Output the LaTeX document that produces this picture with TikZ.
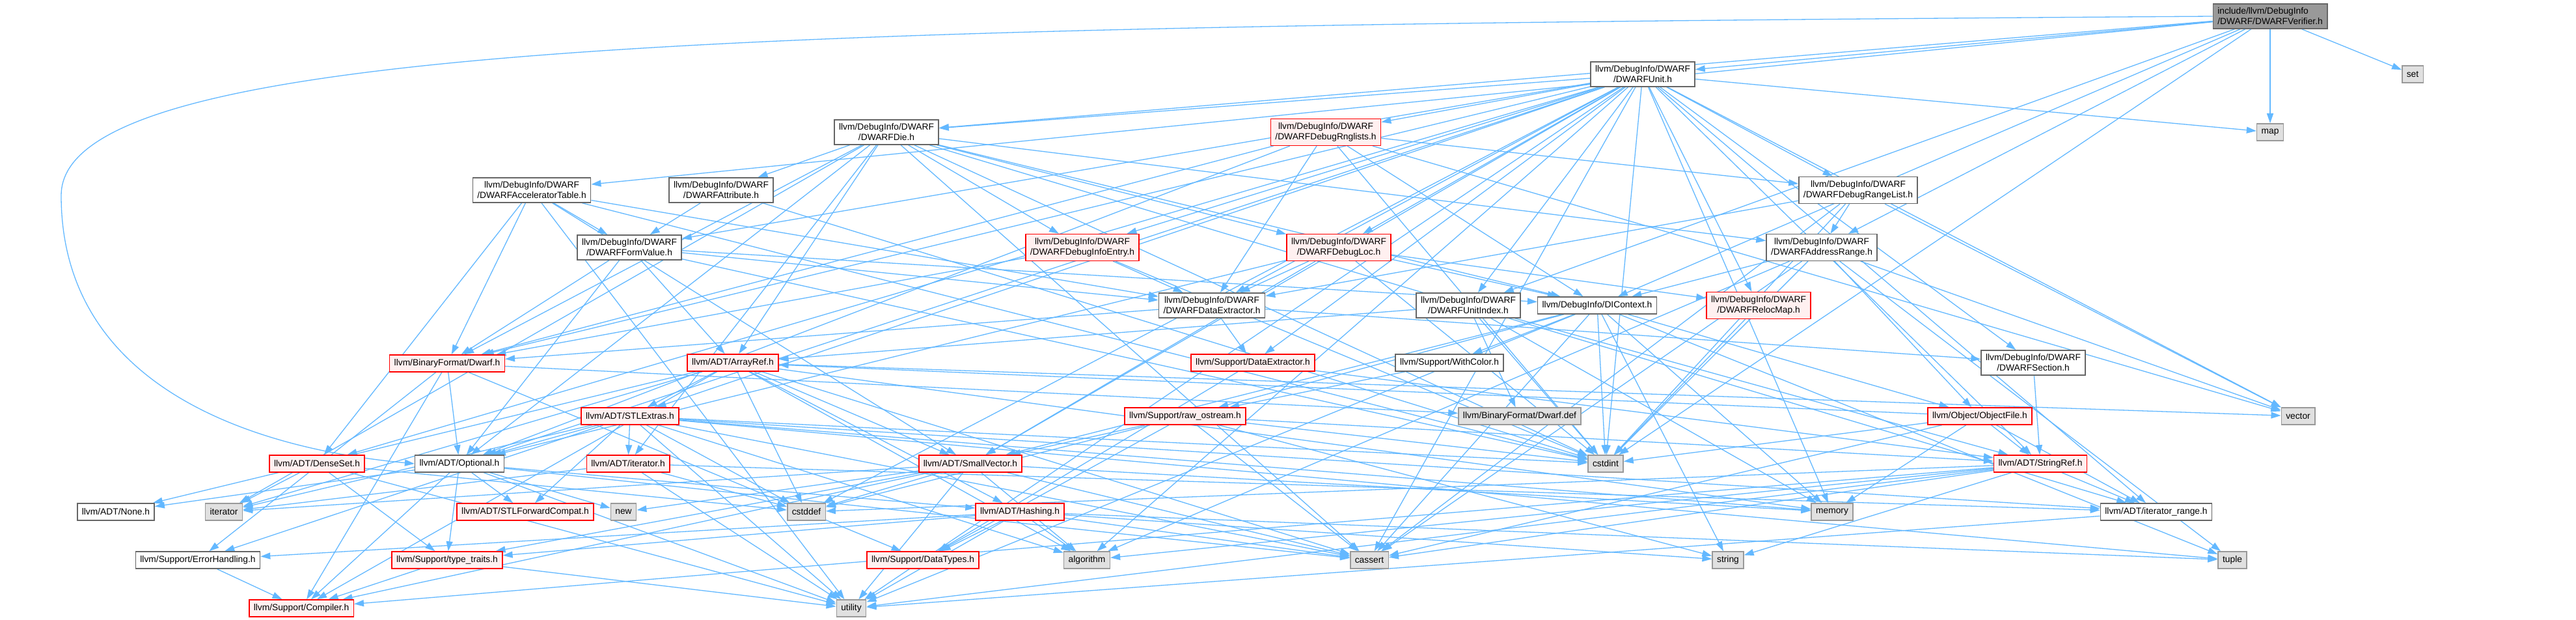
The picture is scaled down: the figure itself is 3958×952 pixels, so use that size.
\documentclass[tikz,border=0pt]{standalone}
\usepackage{fontspec}
\setmainfont{Liberation Sans}
\usetikzlibrary{arrows.meta}
\definecolor{edgeblue}{HTML}{63B8FF}
\definecolor{boxline}{HTML}{666666}
\definecolor{sysline}{HTML}{999999}
\definecolor{sysfill}{HTML}{E0E0E0}
\definecolor{truncfill}{HTML}{FFF0F0}
\pgfdeclarelayer{edges}
\pgfsetlayers{edges,main}

\begin{document}
\begin{tikzpicture}[x=1pt,y=-1pt,
  hdr/.style={draw=boxline,fill=white,line width=1.5pt,align=center,
    inner xsep=7pt,inner ysep=6pt,minimum height=26pt,
    font=\fontsize{13.8}{16}\selectfont},
  trunc/.style={hdr,draw=red,fill=truncfill},
  sys/.style={hdr,draw=sysline,fill=sysfill},
  rootbox/.style={hdr,fill=sysline,align=left},
  inc/.style={draw=edgeblue,line width=1.3pt,-{Triangle[length=15pt,width=10pt]}}]
  \useasboundingbox (0,0) rectangle (3958,952);

  % ================= top ranks =================
  \node[rootbox] (V) at (3488,25) {include/llvm/DebugInfo\\/DWARF/DWARFVerifier.h};
  \node[sys] (sset) at (3707,114) {set};
  \node[hdr] (unit) at (2524,114) {llvm/DebugInfo/DWARF\\/DWARFUnit.h};
  \node[sys] (smap) at (3488,203) {map};
  \node[trunc] (rngl) at (2037,203) {llvm/DebugInfo/DWARF\\/DWARFDebugRnglists.h};
  \node[hdr] (die) at (1362,203) {llvm/DebugInfo/DWARF\\/DWARFDie.h};
  \node[hdr] (accel) at (817,292) {llvm/DebugInfo/DWARF\\/DWARFAcceleratorTable.h};
  \node[hdr] (attr) at (1108,292) {llvm/DebugInfo/DWARF\\/DWARFAttribute.h};
  \node[hdr] (rangelist) at (2855,292) {llvm/DebugInfo/DWARF\\/DWARFDebugRangeList.h};
  \node[hdr] (formval) at (967,380) {llvm/DebugInfo/DWARF\\/DWARFFormValue.h};
  \node[trunc] (infoentry) at (1663,380) {llvm/DebugInfo/DWARF\\/DWARFDebugInfoEntry.h};
  \node[trunc] (dloc) at (2057,380) {llvm/DebugInfo/DWARF\\/DWARFDebugLoc.h};
  \node[hdr] (addrrange) at (2799,380) {llvm/DebugInfo/DWARF\\/DWARFAddressRange.h};
  \node[hdr] (dextr) at (1862,469) {llvm/DebugInfo/DWARF\\/DWARFDataExtractor.h};
  \node[hdr] (uidx) at (2256,469) {llvm/DebugInfo/DWARF\\/DWARFUnitIndex.h};
  \node[hdr] (dictx) at (2454,469) {llvm/DebugInfo/DIContext.h};
  \node[trunc] (reloc) at (2702,469) {llvm/DebugInfo/DWARF\\/DWARFRelocMap.h};

  % ================= middle ranks =================
  \node[trunc] (dwarfh) at (687,558) {llvm/BinaryFormat/Dwarf.h};
  \node[trunc] (arrayref) at (1126,557) {llvm/ADT/ArrayRef.h};
  \node[trunc] (sdextr) at (1925,557) {llvm/Support/DataExtractor.h};
  \node[hdr] (withcolor) at (2227,557) {llvm/Support/WithColor.h};
  \node[hdr] (section) at (3124,557) {llvm/DebugInfo/DWARF\\/DWARFSection.h};
  \node[trunc] (stlextras) at (968,639) {llvm/ADT/STLExtras.h};
  \node[trunc] (rawos) at (1821,639) {llvm/Support/raw\_ostream.h};
  \node[sys] (sdwarfdef) at (2335,639) {llvm/BinaryFormat/Dwarf.def};
  \node[trunc] (objfile) at (3042,639) {llvm/Object/ObjectFile.h};
  \node[sys] (svector) at (3531,639) {vector};
  \node[trunc] (denseset) at (487,712) {llvm/ADT/DenseSet.h};
  \node[hdr] (optional) at (706,712) {llvm/ADT/Optional.h};
  \node[trunc] (iterh) at (965,712) {llvm/ADT/iterator.h};
  \node[trunc] (smallvec) at (1491,712) {llvm/ADT/SmallVector.h};
  \node[sys] (scstdint) at (2467,712) {cstdint};
  \node[trunc] (stringref) at (3135,712) {llvm/ADT/StringRef.h};

  % ================= bottom ranks =================
  \node[hdr] (none) at (178,786) {llvm/ADT/None.h};
  \node[sys] (siterator) at (344,786) {iterator};
  \node[trunc] (stlfwd) at (807,786) {llvm/ADT/STLForwardCompat.h};
  \node[sys] (snew) at (958,786) {new};
  \node[sys] (scstddef) at (1239,786) {cstddef};
  \node[trunc] (hashing) at (1567,786) {llvm/ADT/Hashing.h};
  \node[sys] (smemory) at (2815,786) {memory};
  \node[hdr] (iterrange) at (3313,786) {llvm/ADT/iterator\_range.h};
  \node[hdr] (errh) at (304,860) {llvm/Support/ErrorHandling.h};
  \node[trunc] (typetr) at (687,860) {llvm/Support/type\_traits.h};
  \node[trunc] (datatypes) at (1418,860) {llvm/Support/DataTypes.h};
  \node[sys] (salgorithm) at (1670,860) {algorithm};
  \node[sys] (scassert) at (2104,860) {cassert};
  \node[sys] (sstring) at (2655,860) {string};
  \node[sys] (stuple) at (3430,860) {tuple};
  \node[trunc] (compiler) at (463,934) {llvm/Support/Compiler.h};
  \node[sys] (sutility) at (1308,934) {utility};

  % ================= include edges =================
  \begin{pgfonlayer}{edges}
    \foreach \t in {unit,die,accel,dictx,addrrange,uidx,scstdint,smap,sset}
      \draw[inc] (V) -- (\t);
    % Optional.h is reached round the far left
    \draw[inc] (V.west) .. controls (1200,40) and (94,60) .. (94,300)
      .. controls (94,600) and (400,690) .. (optional.west);

    \foreach \t in {denseset,optional,stlextras,smallvec,stringref,iterrange,dwarfh,infoentry,
        rangelist,rngl,die,formval,dloc,reloc,section,uidx,sdextr,dextr,salgorithm,scassert,
        scstddef,scstdint,smap,smemory,sutility,svector}
      \draw[inc] (unit) -- (\t);
    \foreach \t in {arrayref,optional,iterh,iterrange,dwarfh,dictx,addrrange,attr,infoentry,
        dloc,scassert,scstdint,siterator}
      \draw[inc] (die) -- (\t);
    \foreach \t in {optional,dwarfh,dictx,rangelist,dextr,scstdint,svector}
      \draw[inc] (rngl) -- (\t);
    \foreach \t in {denseset,smallvec,dwarfh,dextr,formval,scstdint,sutility}
      \draw[inc] (accel) -- (\t);
    \foreach \t in {formval,scstdint}
      \draw[inc] (attr) -- (\t);
    \foreach \t in {addrrange,dextr,scassert,scstdint,svector}
      \draw[inc] (rangelist) -- (\t);
    \foreach \t in {arrayref,optional,dwarfh,dictx,dextr,scstdint}
      \draw[inc] (formval) -- (\t);
    \foreach \t in {dwarfh,dextr,scstdint}
      \draw[inc] (infoentry) -- (\t);
    \foreach \t in {optional,smallvec,dictx,dextr,reloc,scstdint}
      \draw[inc] (dloc) -- (\t);
    \foreach \t in {dictx,objfile,salgorithm,scassert,scstdint,stuple,svector}
      \draw[inc] (addrrange) -- (\t);
    \foreach \t in {dwarfh,section,sdextr}
      \draw[inc] (dextr) -- (\t);
    \foreach \t in {arrayref,stringref,sdwarfdef,scstdint,smemory}
      \draw[inc] (uidx) -- (\t);
    \foreach \t in {smallvec,objfile,withcolor,rawos,scassert,scstdint,smemory,sstring,stuple,sutility}
      \draw[inc] (dictx) -- (\t);
    \draw[inc] (reloc) -- (scstdint);
    \draw[inc] (section) -- (stringref);
    \foreach \t in {stringref,datatypes}
      \draw[inc] (sdextr) -- (\t);
    \draw[inc] (withcolor) -- (rawos);
    \foreach \t in {optional,errh,compiler,datatypes,sdwarfdef}
      \draw[inc] (dwarfh) -- (\t);
    \foreach \t in {hashing,none,stlextras,smallvec,compiler,salgorithm,scassert,scstddef,
        siterator,smemory,svector}
      \draw[inc] (arrayref) -- (\t);
    \foreach \t in {optional,stlfwd,iterh,iterrange,errh,salgorithm,scassert,scstddef,scstdint,
        siterator,smemory,stuple,sutility}
      \draw[inc] (stlextras) -- (\t);
    \foreach \t in {smallvec,stringref,datatypes,scassert,scstddef,scstdint,sstring}
      \draw[inc] (rawos) -- (\t);
    \foreach \t in {arrayref,stringref,iterrange,scassert,scstdint,smemory}
      \draw[inc] (objfile) -- (\t);
    \foreach \t in {typetr,scstddef,siterator,sutility}
      \draw[inc] (denseset) -- (\t);
    \foreach \t in {hashing,none,stlfwd,compiler,typetr,scassert,snew,sutility}
      \draw[inc] (optional) -- (\t);
    \foreach \t in {iterrange,scstddef,siterator,sutility}
      \draw[inc] (iterh) -- (\t);
    \foreach \t in {compiler,typetr,salgorithm,scassert,scstddef,siterator,smemory,snew,sutility}
      \draw[inc] (smallvec) -- (\t);
    \foreach \t in {iterrange,compiler,salgorithm,scassert,scstddef,sstring,sutility}
      \draw[inc] (stringref) -- (\t);
    \foreach \t in {datatypes,errh,typetr,salgorithm,scassert,sstring,stuple,sutility}
      \draw[inc] (hashing) -- (\t);
    \draw[inc] (iterrange) -- (sutility);
    \draw[inc] (errh) -- (compiler);
    \foreach \t in {compiler,sutility}
      \draw[inc] (typetr) -- (\t);
  \end{pgfonlayer}
\end{tikzpicture}
\end{document}
